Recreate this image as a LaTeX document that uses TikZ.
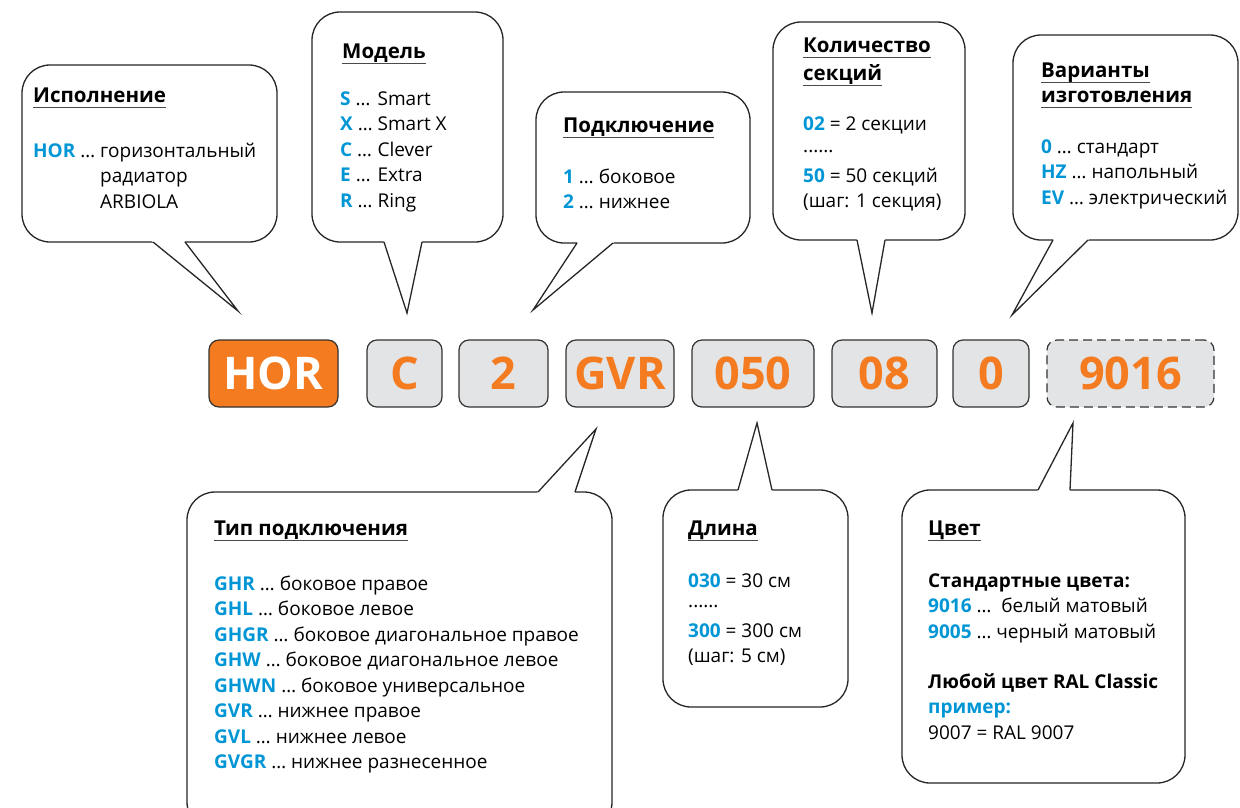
\documentclass[tikz,border=0pt]{standalone}
\usepackage{fontspec}
\setmainfont{Open Sans}
\usetikzlibrary{positioning,calc}

\definecolor{codeorange}{HTML}{F47B20}
\definecolor{codeblue}{HTML}{0096D6}
\definecolor{boxgray}{HTML}{E3E4E5}
\definecolor{ulgray}{HTML}{4A4A4A}

\newsavebox\hdbox
\newcommand\hd[1]{\sbox\hdbox{\bfseries #1}\rlap{\color{ulgray}\rule[-6pt]{\wd\hdbox}{1.4pt}}\usebox\hdbox}
\newcommand\cb[1]{\textbf{\color{codeblue}#1}}
\newcommand\spike[3]{%
  \fill[white] ($(#1)!-3pt!(#2)$) -- (#2) -- ($(#3)!-3pt!(#2)$) -- cycle;
  \draw[line width=1.3pt, black!85] (#1) -- (#2) -- (#3);}

\begin{document}
\begin{tikzpicture}[x=1pt, y=-1pt,
  bubble/.style={draw=black!85, line width=1.3pt, fill=white, rounded corners=28pt, inner sep=0pt, outer sep=0pt},
  code/.style={draw=black!80, line width=1.2pt, fill=boxgray, rounded corners=10pt, minimum height=67pt, inner sep=0pt, outer sep=0pt, text=codeorange, font=\fontsize{45}{45}\selectfont\bfseries},
  head/.style={anchor=base west, inner sep=0pt, font=\fontsize{20.5}{25}\selectfont},
  body/.style={anchor=base west, inner sep=0pt, font=\fontsize{19}{25.5}\selectfont}]
\useasboundingbox (0,0) rectangle (1240,807);

\node[bubble, minimum width=255pt, minimum height=177pt] (execb) at (149.5,153.5) {};
\node[bubble, minimum width=191pt, minimum height=230pt] (modelb) at (407.5,127) {};
\node[bubble, minimum width=214pt, minimum height=151pt] (connb) at (643,167.5) {};
\node[bubble, minimum width=192pt, minimum height=218pt] (sectb) at (869,131) {};
\node[bubble, minimum width=225pt, minimum height=205pt] (variantb) at (1125.5,137.5) {};
\node[bubble, minimum width=425pt, minimum height=338pt] (ctypeb) at (399.5,661) {};
\node[bubble, minimum width=185pt, minimum height=217pt] (lengthb) at (755.5,598.5) {};
\node[bubble, minimum width=283pt, minimum height=293pt] (colourb) at (1043.5,636.5) {};

\coordinate (execa) at (153,242);  \coordinate (execz) at (185,242);  \coordinate (exectip) at (238,311);
\coordinate (modela) at (384,242); \coordinate (modelz) at (422,242); \coordinate (modeltip) at (407,313);
\coordinate (conna) at (577,243);  \coordinate (connz) at (613,243);  \coordinate (conntip) at (533,310);
\coordinate (secta) at (857,240);  \coordinate (sectz) at (885,240);  \coordinate (secttip) at (872,313);
\coordinate (varianta) at (1053,240); \coordinate (variantz) at (1088,240); \coordinate (varianttip) at (1012,315);
\coordinate (ctypea) at (538,492); \coordinate (ctypez) at (575,492); \coordinate (ctypetip) at (596,429);
\coordinate (lengtha) at (738,490); \coordinate (lengthz) at (772,490); \coordinate (lengthtip) at (757,423);
\coordinate (coloura) at (1038,490); \coordinate (colourz) at (1070,490); \coordinate (colourtip) at (1073,423);

\spike{execa}{exectip}{execz}
\spike{modela}{modeltip}{modelz}
\spike{conna}{conntip}{connz}
\spike{secta}{secttip}{sectz}
\spike{varianta}{varianttip}{variantz}
\spike{ctypea}{ctypetip}{ctypez}
\spike{lengtha}{lengthtip}{lengthz}
\spike{coloura}{colourtip}{colourz}

\node[head] (exech) at (33,102) {\hd{Исполнение}};
\node[body] (exect) at (33,157) {\begin{tabular}[t]{@{}l@{}}
  \cb{HOR} … горизонтальный\\
  \hphantom{\cb{HOR} … }радиатор\\
  \hphantom{\cb{HOR} … }ARBIOLA\end{tabular}};

\node[head] (modelh) at (342,58) {\hd{Модель}};
\node[body] (modelt) at (340,105) {\begin{tabular}[t]{@{}l@{ }l@{}}
  \cb{S} … & Smart\\ \cb{X} … & Smart X\\ \cb{C} … & Clever\\
  \cb{E} … & Extra\\ \cb{R} … & Ring\end{tabular}};

\node[head] (connh) at (563,132) {\hd{Подключение}};
\node[body] (connt) at (563,183) {\begin{tabular}[t]{@{}l@{}}
  \cb{1} … боковое\\ \cb{2} … нижнее\end{tabular}};

\node[head] (secth) at (803,52) {\begin{tabular}[t]{@{}l@{}}
  \hd{Количество}\\[3pt] \hd{секций}\end{tabular}};
\node[body] (sectt) at (803,130) {\begin{tabular}[t]{@{}l@{}}
  \cb{02} = 2 секции\\[-3.5pt] ......\\[4.5pt]
  \cb{50} = 50 секций\\ (шаг: 1 секция)\end{tabular}};

\node[head] (varianth) at (1041,77) {\begin{tabular}[t]{@{}l@{}}
  \hd{Варианты}\\ \hd{изготовления}\end{tabular}};
\node[body] (variantt) at (1041,153) {\begin{tabular}[t]{@{}l@{}}
  \cb{0} … стандарт\\ \cb{HZ} … напольный\\ \cb{EV} … электрический\end{tabular}};

\node[head] (ctypeh) at (214,535) {\hd{Тип подключения}};
\node[body] (ctypet) at (214,590) {\begin{tabular}[t]{@{}l@{}}
  \cb{GHR} … боковое правое\\
  \cb{GHL} … боковое левое\\
  \cb{GHGR} … боковое диагональное правое\\
  \cb{GHW} … боковое диагональное левое\\
  \cb{GHWN} … боковое универсальное\\
  \cb{GVR} … нижнее правое\\
  \cb{GVL} … нижнее левое\\
  \cb{GVGR} … нижнее разнесенное\end{tabular}};

\node[head] (lengthh) at (688,535) {\hd{Длина}};
\node[body] (lengtht) at (688,587) {\begin{tabular}[t]{@{}l@{}}
  \cb{030} = 30 см\\[-5.5pt] ......\\[4.5pt]
  \cb{300} = 300 см\\ (шаг: 5 см)\end{tabular}};

\node[head] (colourh) at (928,535) {\hd{Цвет}};
\node[body] (colourt) at (928,587) {\begin{tabular}[t]{@{}l@{}}
  \textbf{Стандартные цвета:}\\
  \cb{9016} …\ \ белый матовый\\
  \cb{9005} … черный матовый\\[24.5pt]
  \textbf{Любой цвет RAL Classic}\\
  \cb{пример:}\\
  9007 = RAL 9007\end{tabular}};

\node[code, fill=codeorange, text=white, minimum width=129pt] (hor) at (273.5,373.5) {HOR};
\node[code, minimum width=75pt, right=29pt of hor] (model) {C};
\node[code, minimum width=89pt, right=17pt of model] (conn) {2};
\node[code, minimum width=108pt, right=18pt of conn] (ctype) {GVR};
\node[code, minimum width=122pt, right=18pt of ctype] (length) {050};
\node[code, minimum width=105pt, right=18pt of length] (sect) {08};
\node[code, minimum width=76pt, right=16pt of sect] (variant) {0};
\node[code, dash pattern=on 9pt off 5pt, minimum width=167pt, right=18pt of variant] (colour) {9016};
\end{tikzpicture}
\end{document}
